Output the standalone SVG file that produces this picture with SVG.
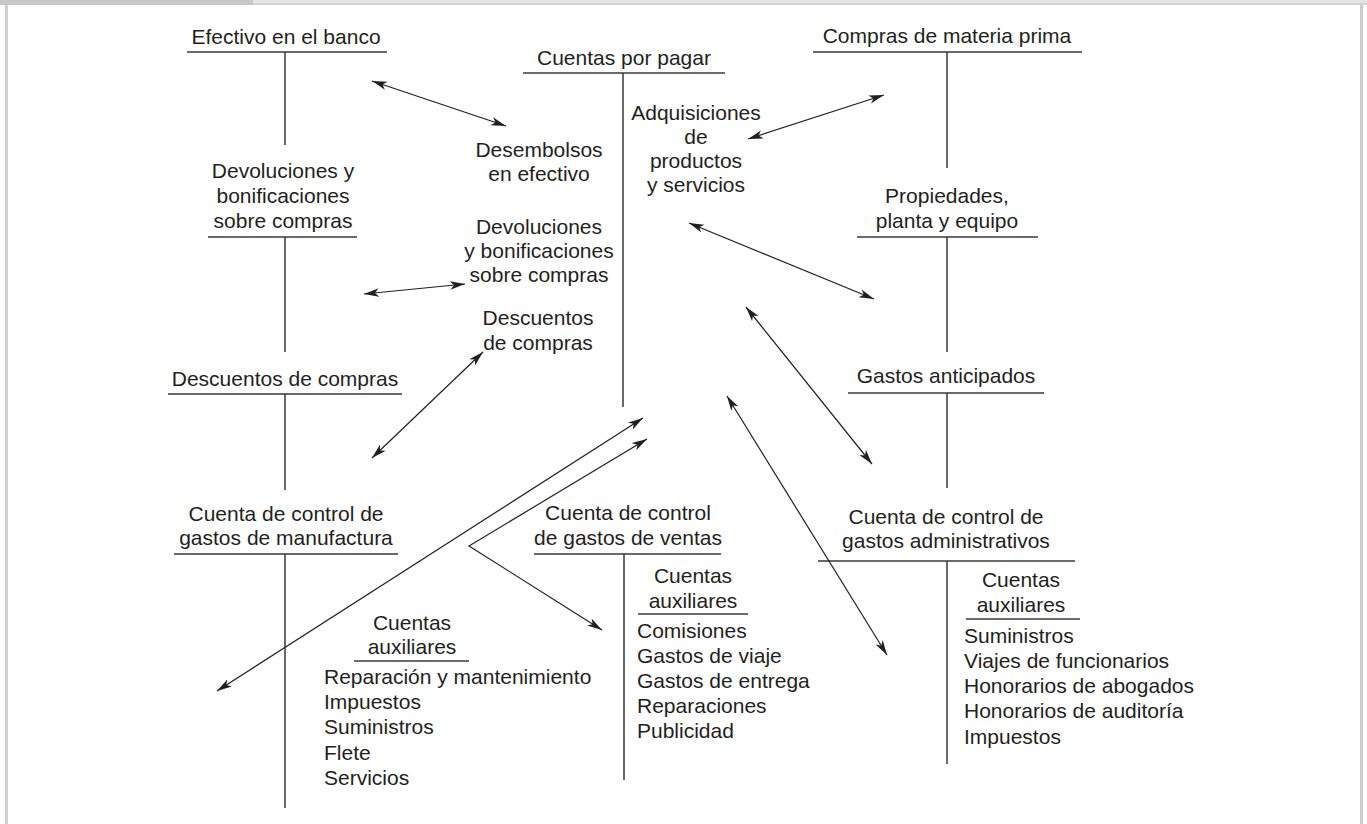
<svg xmlns="http://www.w3.org/2000/svg" width="1367" height="824" viewBox="0 0 1367 824">
<style>
  text { font-family: "Liberation Sans", Arial, sans-serif; font-size: 21px; fill: #231f20; }
  .c { text-anchor: middle; }
  .t { stroke: #3a3a3a; stroke-width: 1.5; fill: none; }
  .a { stroke: #231f20; stroke-width: 1.2; fill: none; marker-start: url(#ah); marker-end: url(#ah); }
</style>
<defs>
  <marker id="ah" markerUnits="userSpaceOnUse" markerWidth="16" markerHeight="10" refX="15" refY="5" orient="auto-start-reverse">
    <path d="M0,0.8 L15,5 L0,9.2 L4,5 z" fill="#231f20"/>
  </marker>
</defs>
<rect width="1367" height="824" fill="#ffffff"/>
<g id="frame">
  <rect x="253" y="0" width="1114" height="3" fill="#e4e4e4"/>
  <rect x="253" y="3" width="1114" height="2" fill="#d2d2d2"/>
  <rect x="0" y="0" width="253" height="5" fill="#c8c8c8"/>
  <rect x="5" y="5" width="3" height="819" fill="#d0d0d0"/>
  <rect x="1360" y="5" width="3" height="819" fill="#cccccc"/>
</g>
<g id="efectivo">
  <text class="c" x="286" y="44">Efectivo en el banco</text>
  <path class="t" d="M187,52 H387 M285,52 V145"/>
</g>
<g id="devoluciones-izq">
  <text class="c" x="283" y="178">Devoluciones y<tspan x="283" y="203">bonificaciones</tspan><tspan x="283" y="228">sobre compras</tspan></text>
  <path class="t" d="M208,237 H357 M285,237 V352"/>
</g>
<g id="descuentos-izq">
  <text class="c" x="285" y="386">Descuentos de compras</text>
  <path class="t" d="M168,394 H402 M285,394 V490"/>
</g>
<g id="manufactura">
  <text class="c" x="286" y="521">Cuenta de control de<tspan x="286" y="545">gastos de manufactura</tspan></text>
  <path class="t" d="M174,554 H398 M285,554 V808"/>
  <text class="c" x="412" y="630">Cuentas<tspan x="412" y="654">auxiliares</tspan></text>
  <path class="t" d="M354,661 H469"/>
  <text x="324" y="684">Reparación y mantenimiento<tspan x="324" y="709">Impuestos</tspan><tspan x="324" y="734">Suministros</tspan><tspan x="324" y="760">Flete</tspan><tspan x="324" y="785">Servicios</tspan></text>
</g>
<g id="cuentas-por-pagar">
  <text class="c" x="624" y="65">Cuentas por pagar</text>
  <path class="t" d="M523,73 H725 M623,73 V407"/>
</g>
<g id="desembolsos">
  <text class="c" x="539" y="157">Desembolsos<tspan x="539" y="181">en efectivo</tspan></text>
</g>
<g id="adquisiciones">
  <text class="c" x="696" y="120">Adquisiciones<tspan x="696" y="144">de</tspan><tspan x="696" y="168">productos</tspan><tspan x="696" y="192">y servicios</tspan></text>
</g>
<g id="devoluciones-centro">
  <text class="c" x="539" y="234">Devoluciones<tspan x="539" y="258">y bonificaciones</tspan><tspan x="539" y="282">sobre compras</tspan></text>
</g>
<g id="descuentos-centro">
  <text class="c" x="538" y="325">Descuentos<tspan x="538" y="350">de compras</tspan></text>
</g>
<g id="compras">
  <text class="c" x="947" y="43">Compras de materia prima</text>
  <path class="t" d="M813,52 H1082 M947,52 V168"/>
</g>
<g id="propiedades">
  <text class="c" x="947" y="203">Propiedades,<tspan x="947" y="228">planta y equipo</tspan></text>
  <path class="t" d="M857,237 H1038 M947,237 V352"/>
</g>
<g id="gastos-anticipados">
  <text class="c" x="946" y="383">Gastos anticipados</text>
  <path class="t" d="M848,393 H1044 M947,393 V488"/>
</g>
<g id="ventas">
  <text class="c" x="628" y="520">Cuenta de control<tspan x="628" y="545">de gastos de ventas</tspan></text>
  <path class="t" d="M534,554 H721 M624,554 V780"/>
  <text class="c" x="693" y="583">Cuentas<tspan x="693" y="608">auxiliares</tspan></text>
  <path class="t" d="M638,614 H748"/>
  <text x="637" y="638">Comisiones<tspan x="637" y="663">Gastos de viaje</tspan><tspan x="637" y="688">Gastos de entrega</tspan><tspan x="637" y="713">Reparaciones</tspan><tspan x="637" y="738">Publicidad</tspan></text>
</g>
<g id="administrativos">
  <text class="c" x="946" y="524">Cuenta de control de<tspan x="946" y="548">gastos administrativos</tspan></text>
  <path class="t" d="M818,561 H1075 M947,561 V764"/>
  <text class="c" x="1021" y="587">Cuentas<tspan x="1021" y="612">auxiliares</tspan></text>
  <path class="t" d="M966,619 H1080"/>
  <text x="964" y="643">Suministros<tspan x="964" y="668">Viajes de funcionarios</tspan><tspan x="964" y="693">Honorarios de abogados</tspan><tspan x="964" y="718">Honorarios de auditoría</tspan><tspan x="964" y="744">Impuestos</tspan></text>
</g>
<g id="connectors">
  <line class="a" x1="372" y1="81" x2="506" y2="126"/>
  <line class="a" x1="748" y1="139" x2="884" y2="95"/>
  <line class="a" x1="689" y1="223" x2="874" y2="299"/>
  <line class="a" x1="364" y1="294" x2="465" y2="284"/>
  <line class="a" x1="483" y1="352" x2="372" y2="458"/>
  <line class="a" x1="746" y1="307" x2="872" y2="464"/>
  <line class="a" x1="727" y1="396" x2="887" y2="655"/>
  <line class="a" x1="217" y1="691" x2="643" y2="418"/>
  <polyline class="a" points="647,439 469,546 602,630"/>
</g>
</svg>
